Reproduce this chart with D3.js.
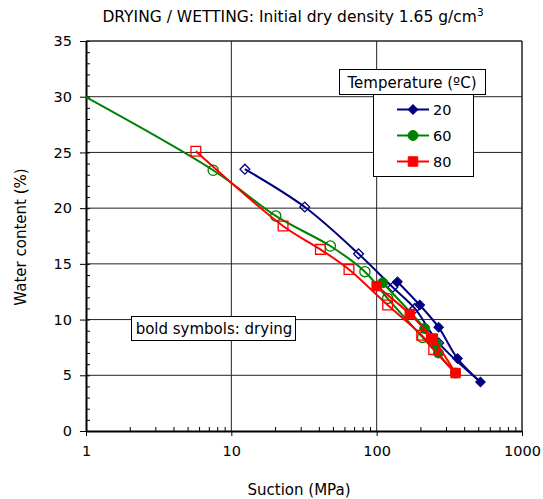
<!DOCTYPE html>
<html>
<head>
<meta charset="utf-8">
<script src="https://cdn.jsdelivr.net/npm/d3@7"></script>
<style>
    body { margin: 0; background: #fff; }
    text { font-family: "DejaVu Sans", Verdana, sans-serif; fill: #000; }
</style>
</head>
<body>
<svg id="chart" width="543" height="499"></svg>
<script>

// Tick labels
const xTicks = [1, 10, 100, 1000];
const yTicks = [0, 5, 10, 15, 20, 25, 30, 35];

// 20 ºC
const suction20Dry = [139, 198, 267, 360, 518];
const water20Dry   = [13.4, 11.3, 9.3, 6.5, 4.4];
const suction20Wet = [267, 183, 129, 75, 32, 12.4];
const water20Wet   = [7.9, 11.0, 12.9, 15.9, 20.1, 23.5];

// 60 ºC (last wetting point lies left of the axis)
const suction60Dry = [110, 214, 258, 266, 349];
const water60Dry   = [13.3, 9.2, 7.8, 7.0, 5.2];
const suction60Wet = [207, 119, 83, 48, 20.2, 7.5, 0.5];
const water60Wet   = [8.4, 11.9, 14.3, 16.6, 19.3, 23.4, 32.1];

// 80 ºC
const suction80Dry = [100, 169, 243, 349];
const water80Dry   = [13.0, 10.5, 8.3, 5.2];
const suction80Wet = [247, 204, 119, 64.5, 41, 22.7, 5.7];
const water80Wet   = [7.3, 8.6, 11.3, 14.5, 16.3, 18.4, 25.1];

const temps = ['20', '60', '80'];

const zip = (s, w) => s.map((d, i) => ({s: d, w: w[i]}));

const series = [
    {name: '20', color: '#000080', shape: 'diamond', dry: zip(suction20Dry, water20Dry), wet: zip(suction20Wet, water20Wet)},
    {name: '60', color: '#008000', shape: 'circle',  dry: zip(suction60Dry, water60Dry), wet: zip(suction60Wet, water60Wet)},
    {name: '80', color: '#ff0000', shape: 'square',  dry: zip(suction80Dry, water80Dry), wet: zip(suction80Wet, water80Wet)}
];

const svg = d3.select('#chart');

const plot = {left: 86, right: 522, top: 41, bottom: 431};

const x = d3.scaleLog()
    .domain([1, 1000])
    .range([plot.left, plot.right]);

const y = d3.scaleLinear()
    .domain([0, 35])
    .range([plot.bottom, plot.top]);

// clip for lines / markers
svg.append('clipPath').attr('id', 'plot-clip')
    .append('rect')
        .attr('x', plot.left).attr('y', plot.top)
        .attr('width', plot.right - plot.left)
        .attr('height', plot.bottom - plot.top);

// gridlines
const grid = svg.append('g').attr('stroke', '#222').attr('stroke-width', 1);
grid.selectAll('.hgrid')
    .data(yTicks.filter(d => d > 0))
    .enter().append('line')
        .attr('x1', plot.left).attr('x2', plot.right)
        .attr('y1', d => y(d)).attr('y2', d => y(d));
grid.selectAll('.vgrid')
    .data([10, 100, 1000])
    .enter().append('line')
        .attr('x1', d => x(d)).attr('x2', d => x(d))
        .attr('y1', plot.top).attr('y2', plot.bottom);

// axes
const minorX = [];
[1, 10, 100].forEach(dec => d3.range(2, 10).forEach(k => minorX.push(dec * k)));

svg.append('g')
    .attr('transform', `translate(0,${plot.bottom})`)
    .call(d3.axisBottom(x).tickValues(minorX).tickSize(-4).tickFormat(''))
    .call(g => g.select('.domain').remove());

svg.append('g')
    .attr('transform', `translate(0,${plot.bottom})`)
    .call(d3.axisBottom(x).tickValues(xTicks).tickSize(5).tickSizeOuter(0).tickPadding(10).tickFormat(d3.format('d')))
    .call(g => g.select('.domain').attr('stroke-width', 2))
    .call(g => g.selectAll('text').attr('font-size', 14.5).attr('font-family', '"DejaVu Sans", sans-serif'));

svg.append('g')
    .attr('transform', `translate(${plot.left},0)`)
    .call(d3.axisLeft(y).tickValues(d3.range(0, 36)).tickSize(-4).tickFormat(''))
    .call(g => g.select('.domain').remove());

svg.append('g')
    .attr('transform', `translate(${plot.left},0)`)
    .call(d3.axisLeft(y).tickValues(yTicks).tickSize(6).tickSizeOuter(0).tickPadding(8))
    .call(g => g.select('.domain').attr('stroke-width', 2))
    .call(g => g.selectAll('text').attr('font-size', 14.5).attr('font-family', '"DejaVu Sans", sans-serif'));

// data lines
const line = d3.line()
    .x(d => x(d.s))
    .y(d => y(d.w))
    .curve(d3.curveCatmullRom.alpha(0.5));

const symbolType = {diamond: d3.symbolSquare, circle: d3.symbolCircle, square: d3.symbolSquare};
const symbolSize = {diamond: 46, circle: 78, square: 90};
const symbolRot = {diamond: 45, circle: 0, square: 0};

const drawMarker = (sel, s, filled) => {
    sel.append('path')
        .attr('d', d3.symbol().type(symbolType[s.shape]).size(filled ? symbolSize[s.shape] : symbolSize[s.shape] * 1.05))
        .attr('transform', d => `translate(${x(d.s)},${y(d.w)}) rotate(${symbolRot[s.shape]})`)
        .attr('fill', filled ? s.color : 'none')
        .attr('stroke', s.color)
        .attr('stroke-width', filled ? 1 : 1.3);
};

const dataLayer = svg.append('g').attr('clip-path', 'url(#plot-clip)');

series.forEach(s => {
    const g = dataLayer.append('g');
    const wetPath = [s.dry[s.dry.length - 1]].concat(s.wet);
    g.append('path').datum(s.dry)
        .attr('d', line).attr('fill', 'none')
        .attr('stroke', s.color).attr('stroke-width', 2);
    g.append('path').datum(wetPath)
        .attr('d', line).attr('fill', 'none')
        .attr('stroke', s.color).attr('stroke-width', 2);
    g.selectAll('.wet').data(s.wet).enter().append('g')
        .each(function(d) { drawMarker(d3.select(this), s, false); });
    g.selectAll('.dry').data(s.dry).enter().append('g')
        .each(function(d) { drawMarker(d3.select(this), s, true); });
});

// plot frame (top / right)
svg.append('path')
    .attr('d', `M${plot.left},${plot.top}H${plot.right}V${plot.bottom}`)
    .attr('fill', 'none').attr('stroke', '#222').attr('stroke-width', 1);

// title
const title = svg.append('text')
    .attr('x', 293).attr('y', 22)
    .attr('text-anchor', 'middle')
    .attr('font-size', 15.5);
title.append('tspan').text('DRYING / WETTING: Initial dry density 1.65 g/cm');
title.append('tspan').attr('dy', -6).attr('font-size', 10.5).text('3');

// axis titles
svg.append('text')
    .attr('x', 299).attr('y', 495)
    .attr('text-anchor', 'middle')
    .attr('font-size', 15)
    .text('Suction (MPa)');

svg.append('text')
    .attr('transform', 'translate(26,237) rotate(-90)')
    .attr('text-anchor', 'middle')
    .attr('font-size', 15)
    .text('Water content (%)');

// legend
const legend = svg.append('g');
legend.append('rect')
    .attr('x', 339.5).attr('y', 69.5).attr('width', 146).attr('height', 25)
    .attr('fill', '#fff').attr('stroke', '#000');
legend.append('text')
    .attr('x', 412).attr('y', 88)
    .attr('text-anchor', 'middle').attr('font-size', 15)
    .text('Temperature (ºC)');
legend.append('rect')
    .attr('x', 373.5).attr('y', 94.5).attr('width', 100).attr('height', 82)
    .attr('fill', '#fff').attr('stroke', '#000');

const legendY = d3.scalePoint().domain(temps).range([109.5, 161.5]);

series.forEach(s => {
    const ly = legendY(s.name);
    legend.append('line')
        .attr('x1', 397).attr('x2', 429).attr('y1', ly).attr('y2', ly)
        .attr('stroke', s.color).attr('stroke-width', 2);
    legend.append('path')
        .attr('d', d3.symbol().type(symbolType[s.shape]).size(symbolSize[s.shape]))
        .attr('transform', `translate(413,${ly}) rotate(${symbolRot[s.shape]})`)
        .attr('fill', s.color).attr('stroke', s.color);
    legend.append('text')
        .attr('x', 433).attr('y', ly + 5.5)
        .attr('font-size', 14.5)
        .text(s.name);
});

// note box
svg.append('rect')
    .attr('x', 131.5).attr('y', 316.5).attr('width', 164).attr('height', 24)
    .attr('fill', '#fff').attr('stroke', '#000');
svg.append('text')
    .attr('x', 214).attr('y', 334)
    .attr('text-anchor', 'middle').attr('font-size', 15)
    .text('bold symbols: drying');

</script>
</body>
</html>
